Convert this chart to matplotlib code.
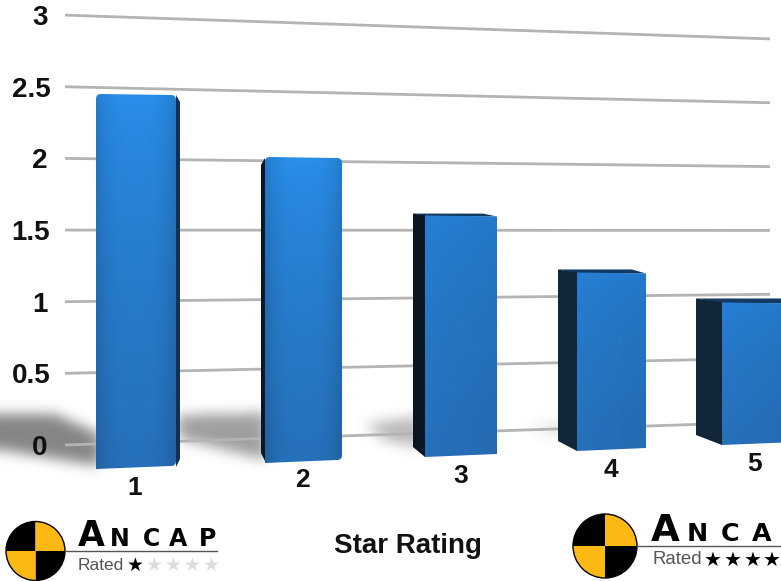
import numpy as np
import matplotlib
matplotlib.use('Agg')
import matplotlib.pyplot as plt
from matplotlib.path import Path
from matplotlib.patches import PathPatch, Polygon, Wedge, Circle

# Data
categories = ['1', '2', '3', '4', '5']
values = [2.5, 2.04, 1.61, 1.19, 0.95]
grid_values = [0, 0.5, 1, 1.5, 2, 2.5, 3]
grid_labels = ['0', '0.5', '1', '1.5', '2', '2.5', '3']
x_title = 'Star Rating'

plt.rcParams['font.family'] = ['Liberation Sans', 'DejaVu Sans']

# Layout of the tilted 3D scene, in pixels of the 781x581 picture
W, H = 781, 581
GRID_X0, GRID_X1 = 65, 770
front_left = [96, 265, 425, 577, 722]
front_right = [176, 342, 497, 646, 797]
side_x = [180, 261, 413, 558, 696]
side_col = ['#12304f', '#0a1724', '#0a1622', '#12263a', '#12263a']
front_base = [469, 463, 457, 451, 445]
PX_PER_UNIT = 150
rounded = [True, True, False, False, False]
cat_label_xy = [(135, 488), (302, 480), (461, 476), (611, 470), (755, 464)]


def grid_y_left(v):
    return 445 - 143.3 * v


def grid_y_right(v):
    return 422 - 127.7 * v


fig = plt.figure(figsize=(W / 100, H / 100), dpi=100)
ax = fig.add_axes([0, 0, 1, 1])
ax.axis('off')


# soft floor shadows behind the bars
def blur(a, n):
    k = np.exp(-np.linspace(-2.2, 2.2, n) ** 2)
    k /= k.sum()
    a = np.apply_along_axis(lambda r: np.convolve(r, k, mode='same'), 0, a)
    a = np.apply_along_axis(lambda r: np.convolve(r, k, mode='same'), 1, a)
    return a


shadows = [
    ([(-60, 414), (55, 414), (100, 434), (100, 466), (-60, 440)], 0.48),
    ([(178, 415), (266, 413), (266, 460), (178, 438)], 0.38),
    ([(365, 424), (420, 416), (420, 448), (385, 440)], 0.28),
    ([(525, 428), (565, 420), (565, 440)], 0.10),
]
xx, yy = np.meshgrid(np.arange(W), np.arange(H))
pts = np.column_stack([xx.ravel() + 0.5, yy.ravel() + 0.5])
alpha = np.zeros((H, W))
for poly, a in shadows:
    inside = Path(poly).contains_points(pts).reshape(H, W)
    alpha = np.maximum(alpha, inside * a)
# pad the left side so the blur does not fade at the picture edge
padded = np.pad(alpha, ((0, 0), (40, 0)), mode='edge')
alpha = blur(padded, 41)[:, 40:]
rgba = np.zeros((H, W, 4))
rgba[..., 3] = alpha
ax.imshow(rgba, extent=(0, W, H, 0), aspect='auto', zorder=1)

# gridlines
for v in grid_values:
    ax.plot([GRID_X0, GRID_X1], [grid_y_left(v), grid_y_right(v)],
            color='#b4b4b4', lw=2.0, solid_capstyle='butt', zorder=2)

# y labels
for v, s in zip(grid_values, grid_labels):
    lx = 40 if len(s) == 1 else 31
    ax.text(lx, grid_y_left(v) + 3, s, ha='center', va='center',
            fontsize=20, fontweight='bold', color='#111111', zorder=6)


def face_path(x0, x1, y0t, y1t, y0b, y1b, r):
    if r == 0:
        verts = [(x0, y0b), (x0, y0t), (x1, y1t), (x1, y1b), (x0, y0b)]
        return Path(verts, [Path.MOVETO] + [Path.LINETO] * 3 + [Path.CLOSEPOLY])
    verts = [(x0, y0b), (x0, y0t + r), (x0, y0t), (x0 + r, y0t),
             (x1 - r, y1t), (x1, y1t), (x1, y1t + r),
             (x1, y1b - r), (x1, y1b), (x1 - r, y1b), (x0, y0b)]
    codes = [Path.MOVETO, Path.LINETO, Path.CURVE3, Path.CURVE3,
             Path.LINETO, Path.CURVE3, Path.CURVE3,
             Path.LINETO, Path.CURVE3, Path.CURVE3, Path.CLOSEPOLY]
    return Path(verts, codes)


def front_gradient(i):
    # light at the top, duller towards the floor, darker to the right on later bars
    top = np.array([0.16, 0.56, 0.92]) if i < 2 else np.array([0.15, 0.50, 0.84])
    bot = np.array([0.15, 0.44, 0.73])
    ny, nx = 40, 40
    t = np.linspace(0, 1, ny)[:, None, None] ** 0.7
    s = np.linspace(0, 1, nx)[None, :, None]
    img = top * (1 - t) + bot * t
    if i < 2:
        edge = 1 - 0.13 * np.abs(2 * s - 1) ** 3
    else:
        edge = 1 - 0.05 * s
    return np.clip(img * edge, 0, 1)


# bars
for i, v in enumerate(values):
    fl, fr, sx = front_left[i], front_right[i], side_x[i]
    yb = front_base[i]
    yt = yb - v * PX_PER_UNIT
    r = 5 if rounded[i] else 0
    edge_x = fl if sx < fl else fr
    d = abs(sx - edge_x)
    if r:
        # small rounded sliver of the side face
        side = [(edge_x, yt + 1), (sx, yt + 8), (sx, yb - 10), (edge_x, yb - 2)]
        dy_t = 0
    else:
        dy_t = min(d * 0.16, 4)
        side = [(edge_x, yt), (sx, yt - dy_t), (sx, yb - 10), (edge_x, yb)]
        # thin top face
        ax.add_patch(Polygon([(fl, yt + 1), (sx, yt - dy_t), (fr - 14, yt - dy_t), (fr, yt + 1)],
                             closed=True, fc='#123a63', ec='none', zorder=3))
    ax.add_patch(Polygon(side, closed=True, fc=side_col[i], ec='none', zorder=3))
    path = face_path(fl, fr, yt, yt + 1, yb, yb - 3, r)
    patch = PathPatch(path, fc='none', ec='none', zorder=4)
    ax.add_patch(patch)
    im = ax.imshow(front_gradient(i), extent=(fl, fr, yb, yt), aspect='auto',
                   interpolation='bilinear', zorder=4)
    im.set_clip_path(patch)
    ax.text(*cat_label_xy[i], categories[i], ha='center', va='center',
            fontsize=19, fontweight='bold', color='#111111', zorder=6)

ax.text(408, 546, x_title, ha='center', va='center', fontsize=20,
        fontweight='bold', color='#111111', zorder=6)


def logo(cx, cy, r, x_end, text_x, letters, letters_x, stars_x, n_black, scale):
    for a0, col in [(0, 'black'), (90, '#fdb913'), (180, 'black'), (270, '#fdb913')]:
        ax.add_patch(Wedge((cx, cy), r, a0, a0 + 90, fc=col, ec='none', zorder=5))
    ax.add_patch(Circle((cx, cy), r, fc='none', ec='black', lw=1.0, zorder=5))
    ax.plot([cx + r, x_end], [cy, cy], color='#555555', lw=1.0, zorder=5)
    for k, (lx, ch) in enumerate(zip(letters_x, letters)):
        ax.text(lx, cy - 5, ch, ha='center', va='baseline', color='black',
                fontsize=(25 if k == 0 else 17) * scale, fontweight='bold',
                family='DejaVu Sans', zorder=5)
    ax.text(text_x, cy + 14, 'Rated', ha='left', va='center', color='#555555',
            fontsize=12.5 * scale, zorder=5)
    for k, sx in enumerate(stars_x):
        ax.text(sx, cy + 14, '★', ha='center', va='center', family='DejaVu Sans',
                color='black' if k < n_black else '#dddddd',
                fontsize=13.5 * scale, zorder=5)


logo(35.5, 551, 29.5, 217, 78, 'ANCAP', [91, 120, 152, 178, 208],
     [135, 154, 173, 192, 211], 1, 1.0)
logo(605, 546, 32, 781, 652, 'ANCA', [665, 697, 730, 762],
     [713, 733, 753, 772], 4, 1.07)

ax.set_xlim(0, W)
ax.set_ylim(H, 0)
fig.savefig('out.png', dpi=100, facecolor='white')
